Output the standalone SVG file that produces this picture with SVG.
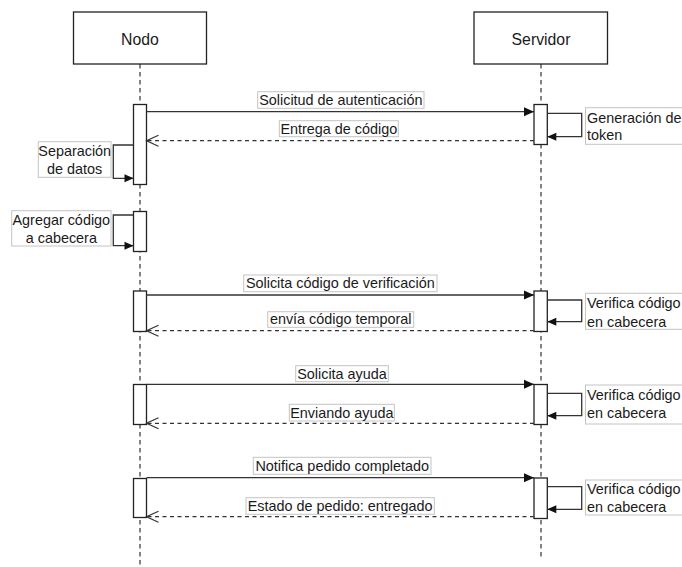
<svg xmlns="http://www.w3.org/2000/svg" width="682" height="567" viewBox="0 0 682 567">
  <style>
    .head { fill: #ffffff; stroke: #222222; stroke-width: 1.3; }
    .head-text { font-family: "Liberation Sans", Arial, sans-serif; font-size: 15.8px; fill: #1a1a1a; text-anchor: middle; }
    .life { fill: none; stroke: #333333; stroke-width: 1.2; stroke-dasharray: 4.5 3.5; }
    .act { fill: #ffffff; stroke: #222222; stroke-width: 1.3; }
    .msg { fill: none; stroke: #333333; stroke-width: 1.3; }
    .ret { fill: none; stroke: #333333; stroke-width: 1.2; stroke-dasharray: 4 3.5; }
    .lbl-bg { fill: #ffffff; stroke: #c4c4c4; stroke-width: 1; }
    .lbl { font-family: "Liberation Sans", Arial, sans-serif; font-size: 14.4px; fill: #1a1a1a; }
    .mid { text-anchor: middle; }
  </style>
  <defs>
    <marker id="block" markerUnits="userSpaceOnUse" markerWidth="11" markerHeight="10" refX="10" refY="4.5" orient="auto" overflow="visible">
      <path d="M0,0 L10,4.5 L0,9 Z" fill="#111111" stroke="none"/>
    </marker>
    <marker id="block-sm" markerUnits="userSpaceOnUse" markerWidth="10" markerHeight="9" refX="9" refY="4" orient="auto" overflow="visible">
      <path d="M0,0 L9,4 L0,8 Z" fill="#111111" stroke="none"/>
    </marker>
    <marker id="open" markerUnits="userSpaceOnUse" markerWidth="13" markerHeight="12" refX="12" refY="5.5" orient="auto" overflow="visible">
      <path d="M0,0 L12,5.5 L0,11" fill="none" stroke="#333333" stroke-width="1.2"/>
    </marker>
  </defs>

  <rect width="682" height="567" fill="#ffffff"/>

  <!-- Participant: Nodo -->
  <g id="nodo">
    <line class="life" x1="140" y1="64" x2="140" y2="566"/>
    <rect class="head" x="73.5" y="12" width="133" height="52"/>
    <text class="head-text" x="140" y="44.5">Nodo</text>
    <rect class="act" x="133.5" y="104.5" width="13" height="80"/>
    <rect class="act" x="133.5" y="211.5" width="13" height="40"/>
    <rect class="act" x="133.5" y="291" width="13" height="40.5"/>
    <rect class="act" x="133.5" y="384.5" width="13" height="40"/>
    <rect class="act" x="133.5" y="478.5" width="13" height="39"/>
  </g>

  <!-- Participant: Servidor -->
  <g id="servidor">
    <line class="life" x1="541" y1="64" x2="541" y2="557"/>
    <rect class="head" x="474" y="12" width="133.5" height="52"/>
    <text class="head-text" x="541" y="44.5">Servidor</text>
    <rect class="act" x="534" y="104.5" width="13.3" height="40"/>
    <rect class="act" x="534" y="291" width="13.3" height="40.5"/>
    <rect class="act" x="534" y="384.5" width="13.3" height="40"/>
    <rect class="act" x="534" y="478" width="13.3" height="40.5"/>
  </g>

  <!-- Messages and self-calls -->
  <g id="connectors">
    <!-- 1: authentication request / code delivery -->
    <line class="msg" x1="146.5" y1="111.7" x2="534" y2="111.7" marker-end="url(#block)"/>
    <rect class="lbl-bg" x="257.7" y="91.7" width="166.3" height="16.6"/>
    <text class="lbl mid" x="340.8" y="105">Solicitud de autenticación</text>

    <polyline class="msg" points="547.3,113.3 581.7,113.3 581.7,136.7 547.3,136.7" marker-end="url(#block-sm)"/>
    <rect class="lbl-bg" x="585.5" y="107.7" width="110" height="36.6"/>
    <text class="lbl" x="587" y="122.7">Generación de</text>
    <text class="lbl" x="587" y="140.2">token</text>

    <line class="ret" x1="534" y1="140.7" x2="146.5" y2="140.7" marker-end="url(#open)"/>
    <rect class="lbl-bg" x="279.3" y="120.7" width="119" height="16"/>
    <text class="lbl mid" x="338.8" y="133.7">Entrega de código</text>

    <polyline class="msg" points="133.5,145 113.3,145 113.3,178.3 133.5,178.3" marker-end="url(#block-sm)"/>
    <rect class="lbl-bg" x="38.3" y="141.7" width="72.7" height="35.6"/>
    <text class="lbl mid" x="74.7" y="156">Separación</text>
    <text class="lbl mid" x="74.7" y="174">de datos</text>

    <polyline class="msg" points="133.5,215 113.3,215 113.3,245.7 133.5,245.7" marker-end="url(#block-sm)"/>
    <rect class="lbl-bg" x="11.7" y="210.7" width="99.3" height="35.3"/>
    <text class="lbl mid" x="61.3" y="225">Agregar código</text>
    <text class="lbl mid" x="61.3" y="242.7">a cabecera</text>

    <!-- 2: verification code -->
    <line class="msg" x1="146.5" y1="295" x2="534" y2="295" marker-end="url(#block)"/>
    <rect class="lbl-bg" x="243.7" y="275" width="193.3" height="16.7"/>
    <text class="lbl mid" x="340.3" y="288.3">Solicita código de verificación</text>

    <polyline class="msg" points="547.3,300 581.7,300 581.7,321.7 547.3,321.7" marker-end="url(#block-sm)"/>
    <rect class="lbl-bg" x="585.5" y="293.3" width="110" height="36"/>
    <text class="lbl" x="587" y="308.3">Verifica código</text>
    <text class="lbl" x="587" y="326.5">en cabecera</text>

    <line class="ret" x1="534" y1="330.7" x2="146.5" y2="330.7" marker-end="url(#open)"/>
    <rect class="lbl-bg" x="267.7" y="311.7" width="146" height="15.6"/>
    <text class="lbl mid" x="340.7" y="324.3">envía código temporal</text>

    <!-- 3: help request -->
    <line class="msg" x1="146.5" y1="384.3" x2="534" y2="384.3" marker-end="url(#block)"/>
    <rect class="lbl-bg" x="295.7" y="365.7" width="92.6" height="16"/>
    <text class="lbl mid" x="342" y="378.5">Solicita ayuda</text>

    <polyline class="msg" points="547.3,393.3 581.7,393.3 581.7,415.7 547.3,415.7" marker-end="url(#block-sm)"/>
    <rect class="lbl-bg" x="585.5" y="385" width="110" height="39"/>
    <text class="lbl" x="587" y="400">Verifica código</text>
    <text class="lbl" x="587" y="418.3">en cabecera</text>

    <line class="ret" x1="534" y1="423.3" x2="146.5" y2="423.3" marker-end="url(#open)"/>
    <rect class="lbl-bg" x="289.3" y="404.3" width="105" height="16.7"/>
    <text class="lbl mid" x="341.8" y="417.6">Enviando ayuda</text>

    <!-- 4: order completed -->
    <line class="msg" x1="146.5" y1="477.7" x2="534" y2="477.7" marker-end="url(#block)"/>
    <rect class="lbl-bg" x="253.3" y="457.3" width="177.7" height="17"/>
    <text class="lbl mid" x="342.2" y="470.8">Notifica pedido completado</text>

    <polyline class="msg" points="547.3,486.7 581.7,486.7 581.7,509.3 547.3,509.3" marker-end="url(#block-sm)"/>
    <rect class="lbl-bg" x="585.5" y="480" width="110" height="35"/>
    <text class="lbl" x="587" y="494.3">Verifica código</text>
    <text class="lbl" x="587" y="512.3">en cabecera</text>

    <line class="ret" x1="534" y1="516.7" x2="146.5" y2="516.7" marker-end="url(#open)"/>
    <rect class="lbl-bg" x="246" y="497.7" width="188.3" height="16.6"/>
    <text class="lbl mid" x="340.2" y="511">Estado de pedido: entregado</text>
  </g>
</svg>
